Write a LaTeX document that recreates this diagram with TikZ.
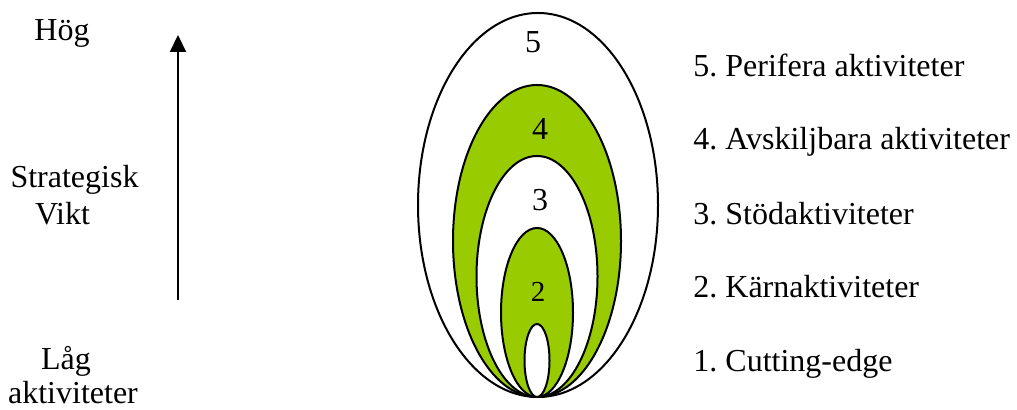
\documentclass[tikz,border=0pt]{standalone}
\usepackage{fontspec}
\setmainfont{Liberation Serif}
\usepackage{tikz}
\usetikzlibrary{arrows.meta,positioning}
\definecolor{LayerGreen}{HTML}{99CC00}
\frenchspacing

\begin{document}
\begin{tikzpicture}[x=0.5pt, y=0.5pt,
  layer/.style={draw=black, line width=1pt},
  tag/.style={anchor=base, inner sep=0pt, font=\fontsize{16}{19}\selectfont},
  item/.style={anchor=base west, inner sep=0pt, font=\fontsize{16}{19}\selectfont},
  axis/.style={-{Triangle[length=8.5pt,width=8pt]}, line width=1pt, draw=black}
]
\useasboundingbox (0,0) rectangle (1017,410);
% nested layers, all touching at the bottom
\draw[layer, fill=white]      (538,205)   ellipse [x radius=120, y radius=192];
\draw[layer, fill=LayerGreen] (537,169)   ellipse [x radius=84,  y radius=156];
\draw[layer, fill=white]      (537,133.5) ellipse [x radius=60.5, y radius=120.5];
\draw[layer, fill=LayerGreen] (537,97.5)  ellipse [x radius=36,  y radius=84.5];
\draw[layer, fill=white]      (537,49.5)  ellipse [x radius=12.5, y radius=36.5];
\node[anchor=center, font=\fontsize{16}{19}\selectfont] (n5) at (533,368) {5};
\node[anchor=center, font=\fontsize{16}{19}\selectfont] (n4) at (540,281) {4};
\node[anchor=center, font=\fontsize{16}{19}\selectfont] (n3) at (540,210) {3};
\node[anchor=center, font=\fontsize{14.5}{17}\selectfont] (n2) at (538,118) {2};
% axis on the left
\node[tag] (hog) at (62,369) {Hög};
\node[tag] (strat) at (74.5,222) {Strategisk};
\node[tag] (vikt) at (62.5,185) {Vikt};
\node[tag] (lag) at (66,40) {Låg};
\node[tag] (akt) at (73,6) {aktiviteter};
\coordinate (lo) at (178,110);
\coordinate (hi) at (178,375);
\draw[axis] (lo) -- (hi);
% legend
\node[item] (l5) at (693,333) {5. Perifera aktiviteter};
\node[item] (l4) at (693,260) {4. Avskiljbara aktiviteter};
\node[item] (l3) at (693,185) {3. Stödaktiviteter};
\node[item] (l2) at (693,112) {2. Kärnaktiviteter};
\node[item] (l1) at (693,38) {1. Cutting-edge};
\end{tikzpicture}
\end{document}
